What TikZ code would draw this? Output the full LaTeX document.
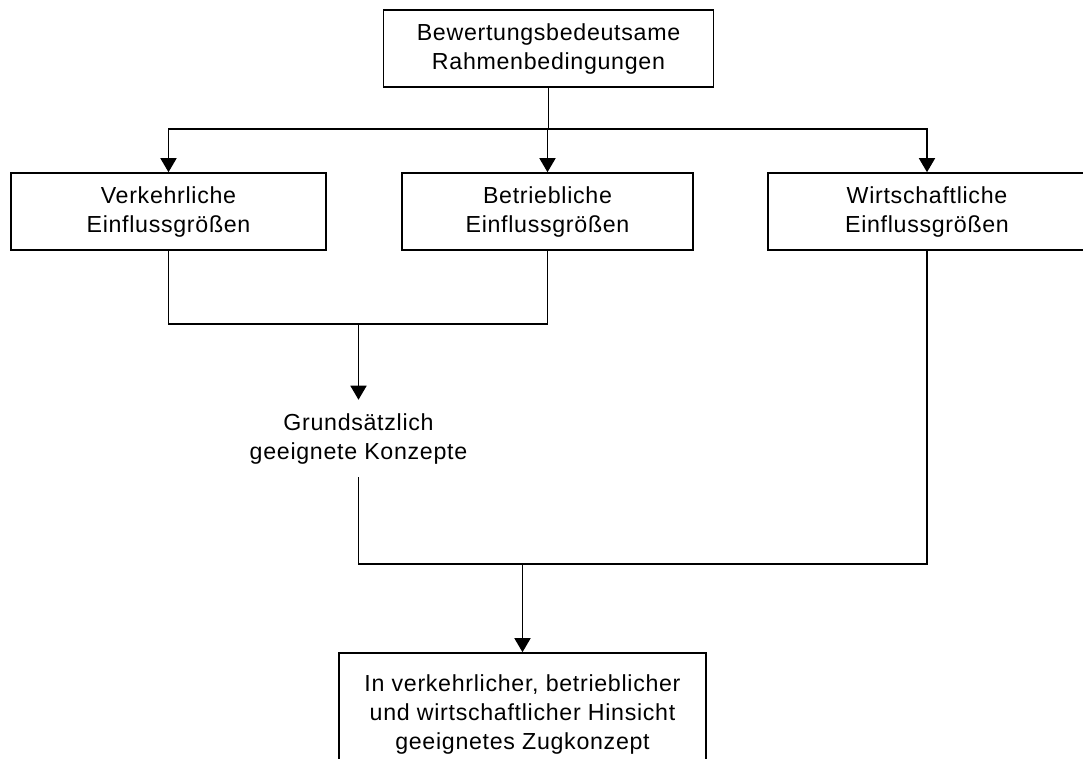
\documentclass[tikz,border=0pt]{standalone}
\usepackage{fontspec}
\setmainfont{Liberation Sans}[LetterSpace=3]
\usetikzlibrary{arrows.meta}
\begin{document}
\begin{tikzpicture}[x=0.75pt,y=-0.75pt,
  box/.style={draw=black,line width=1.2pt,fill=white,align=center,inner sep=0pt,
    font=\fontsize{17.4pt}{21.75pt}\selectfont,minimum height=57.75pt},
  plain/.style={align=center,inner sep=0pt,
    font=\fontsize{17.4pt}{21.75pt}\selectfont},
  conn/.style={line width=1.2pt,draw=black},
  arr/.style={conn,-{Triangle[width=12pt,length=10.5pt]}}]
\useasboundingbox (0,0) rectangle (1083,758);
\clip (0,0) rectangle (1083,758);
\node[box,minimum width=247.5pt] (top) at (548.5,48.5) {Bewertungsbedeutsame\\Rahmenbedingungen};
\node[box,minimum width=236.25pt] (verk) at (168.5,211.5) {Verkehrliche\\Einflussgrößen};
\node[box,minimum width=218.25pt] (betr) at (547.5,211.5) {Betriebliche\\Einflussgrößen};
\node[box,minimum width=238.5pt] (wirt) at (927,211.5) {Wirtschaftliche\\Einflussgrößen};
\node[plain,minimum height=57.75pt] (grund) at (358.5,438.5) {Grundsätzlich\\geeignete Konzepte};
\node[box,minimum width=275.25pt,minimum height=91.5pt] (ziel) at (522.5,714) {In verkehrlicher, betrieblicher\\und wirtschaftlicher Hinsicht\\geeignetes Zugkonzept};
\coordinate (h1) at (548,129);
\coordinate (h2) at (358.5,324);
\coordinate (h3) at (522.5,564);
\draw[conn] (top.south) -- (top.south |- h1);
\draw[arr] (top.south |- h1) -| (verk.north);
\draw[arr] (top.south |- h1) -| (wirt.north);
\draw[arr] (betr.north |- h1) -- (betr.north);
\draw[conn] (verk.south) |- (grund.north |- h2);
\draw[conn] (betr.south) |- (grund.north |- h2);
\draw[arr] (grund.north |- h2) -- (grund.north);
\draw[conn] (grund.south) |- (ziel.north |- h3);
\draw[conn] (wirt.south) |- (ziel.north |- h3);
\draw[arr] (ziel.north |- h3) -- (ziel.north);
\end{tikzpicture}
\end{document}
